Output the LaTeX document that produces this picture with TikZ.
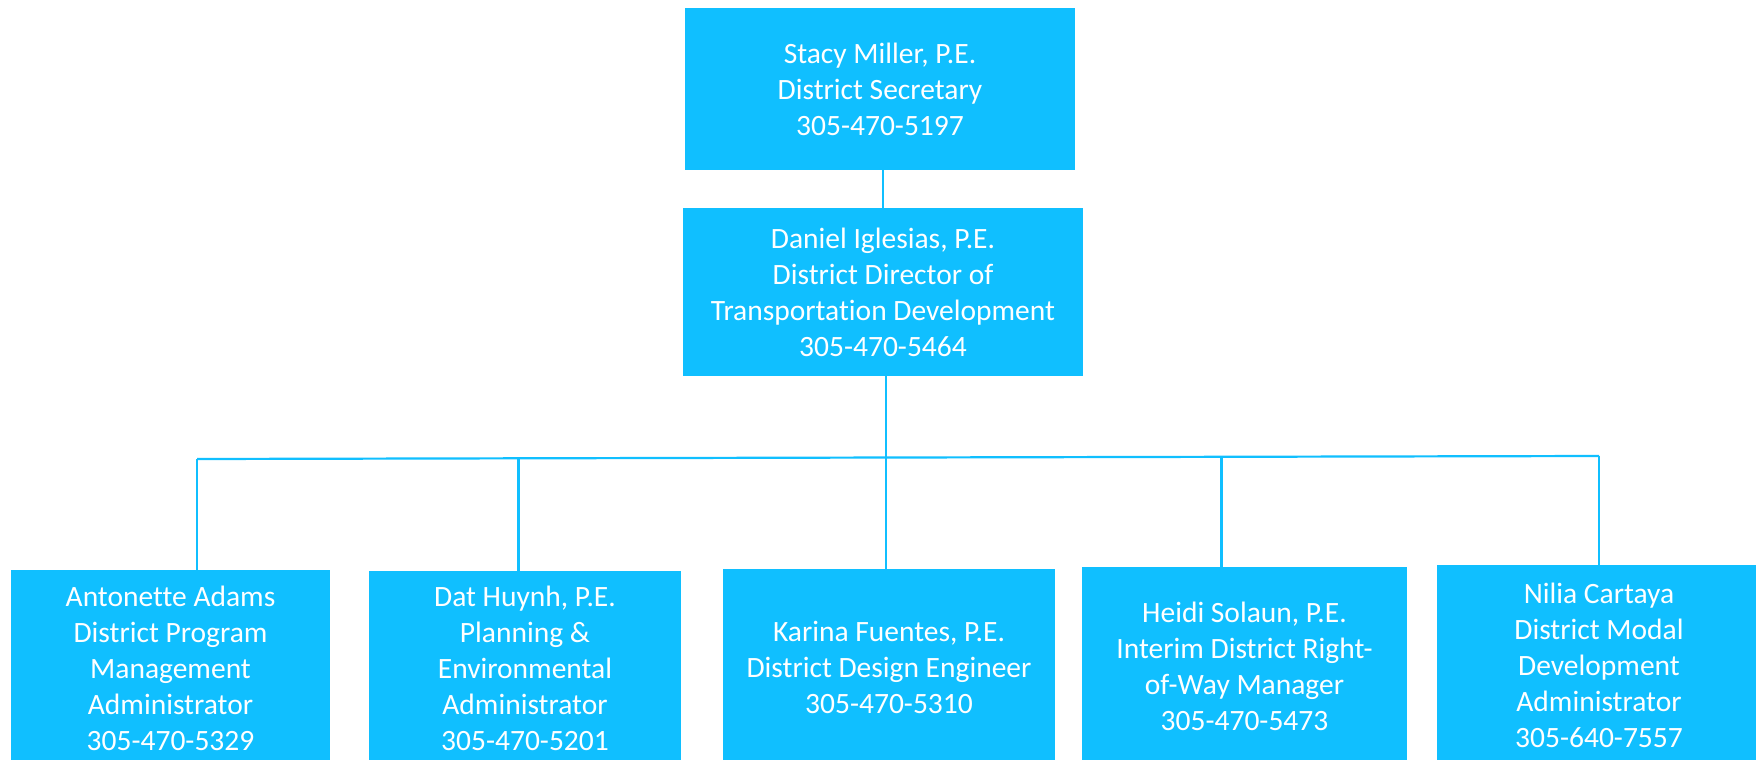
\documentclass[tikz,border=0pt]{standalone}
\usepackage{fontspec}
\setmainfont{Carlito}[Ligatures={NoCommon,NoRare,NoContextual}]
\definecolor{boxblue}{RGB}{16,191,255}
\begin{document}
\begin{tikzpicture}[x=1pt,y=-1pt,
  box/.style={draw=none,fill=boxblue,text=white,align=center,inner sep=0pt,
    font=\fontsize{29.5pt}{36pt}\selectfont},
  link/.style={draw=boxblue,line width=2.2pt}]
\useasboundingbox (0,0) rectangle (1756,760);
\clip (0,0) rectangle (1756,760);
% top levels
\node[box,minimum width=390pt,minimum height=162pt] (top) at (880,89)
  {Stacy Miller, P.E.\\District Secretary\\305-470-5197};
\node[box,minimum width=400pt,minimum height=168pt] (dir) at (883,292)
  {Daniel Iglesias, P.E.\\District Director of\\Transportation Development\\305-470-5464};
% bottom row
\node[box,minimum width=319pt,minimum height=196pt] (b1) at (170.5,668)
  {Antonette Adams\\District Program\\Management\\Administrator\\305-470-5329};
\node[box,minimum width=312pt,minimum height=195pt] (b2) at (525,668.5)
  {Dat Huynh, P.E.\\Planning \&\\Environmental\\Administrator\\305-470-5201};
\node[box,minimum width=332pt,minimum height=197pt] (b3) at (889,667.5)
  {Karina Fuentes, P.E.\\District Design Engineer\\305-470-5310};
\node[box,minimum width=325pt,minimum height=199pt] (b4) at (1244.5,666.5)
  {Heidi Solaun, P.E.\\Interim District Right-\\of-Way Manager\\305-470-5473};
\node[box,minimum width=324pt,minimum height=201pt] (b5) at (1599,665.5)
  {Nilia Cartaya\\District Modal\\Development\\Administrator\\305-640-7557};
% bus coordinates
\coordinate (j1) at (197,459);
\coordinate (j2) at (518.5,458);
\coordinate (j3) at (886,457.5);
\coordinate (j4) at (1221.5,457);
\coordinate (j5) at (1599,456);
% connectors
\draw[link] (dir.north) -- (dir.north |- top.south);
\draw[link] (j3 |- dir.south) -- (j3);
\draw[link] (j1) -- (j5);
\draw[link] (j1) -- (j1 |- b1.north);
\draw[link] (j2) -- (j2 |- b2.north);
\draw[link] (j3) -- (j3 |- b3.north);
\draw[link] (j4) -- (j4 |- b4.north);
\draw[link] (j5) -- (j5 |- b5.north);
\end{tikzpicture}
\end{document}
